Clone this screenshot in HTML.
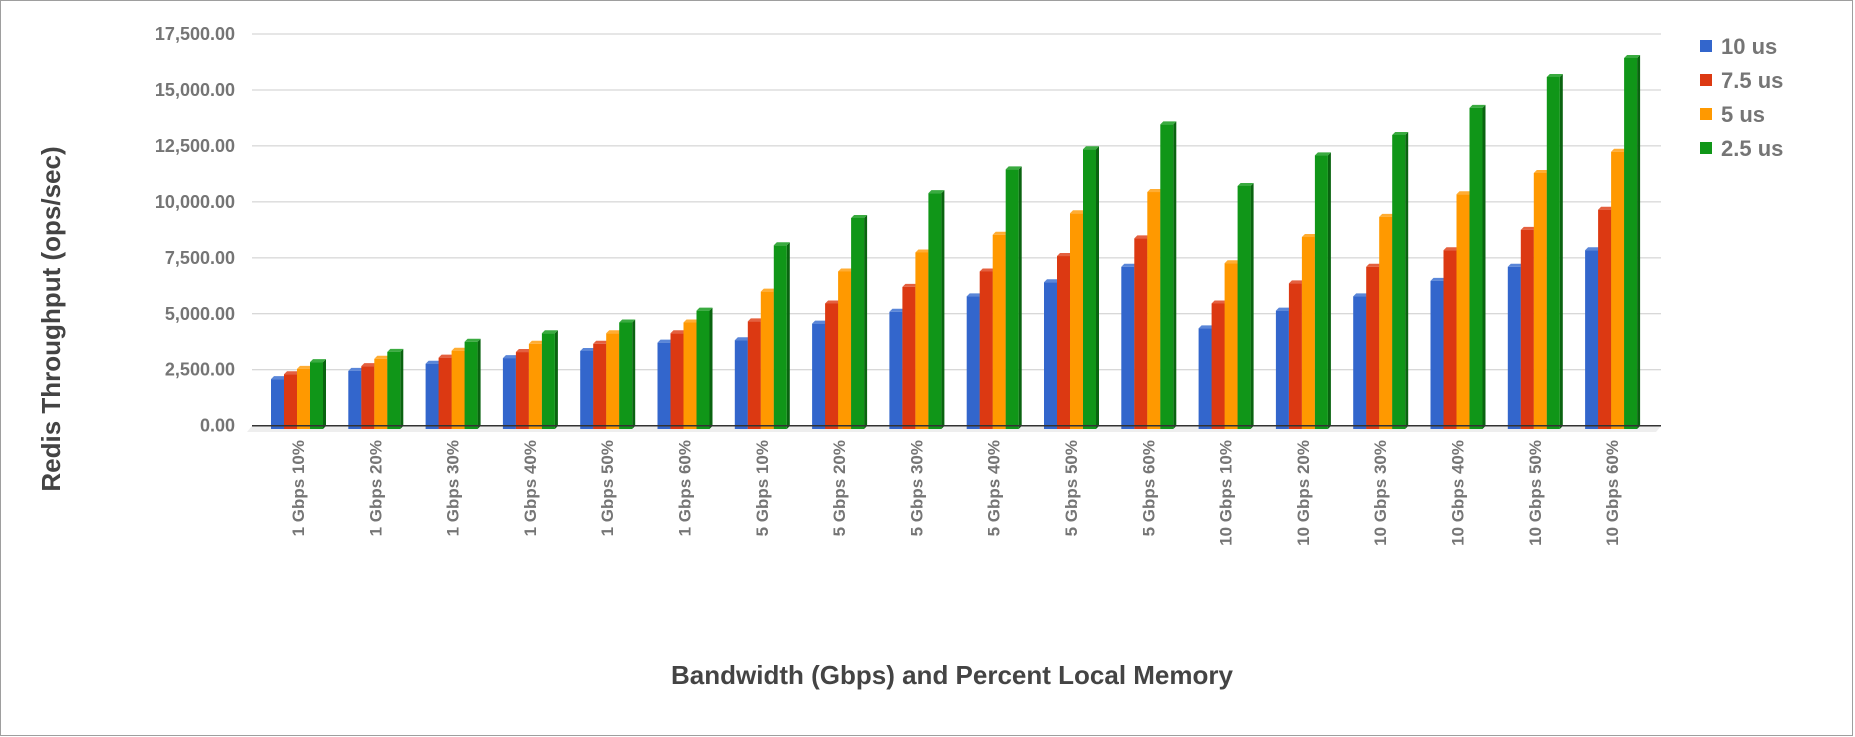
<!DOCTYPE html>
<html><head><meta charset="utf-8"><style>
html,body{margin:0;padding:0;background:#fff;}
svg{display:block;font-family:"Liberation Sans",sans-serif;}
</style></head><body>
<svg id="chart" width="1855" height="737">
<rect x="0.5" y="0.5" width="1852" height="735" fill="#fff" stroke="#9e9e9e"/>
<g id="grid"></g>
<g id="ylabels"></g>
<polygon points="252,426 1661,426 1656,432 247,432" fill="#eeeeee"/>
<g id="bars"></g>
<line x1="252" y1="425.7" x2="1661" y2="425.7" stroke="#333" stroke-width="1.5"/>
<g id="xlabels"></g>
<text x="60" y="319" transform="rotate(-90 60 319)" text-anchor="middle" font-size="26" font-weight="bold" fill="#444">Redis Throughput (ops/sec)</text>
<text x="952" y="684" text-anchor="middle" font-size="26" font-weight="bold" fill="#444">Bandwidth (Gbps) and Percent Local Memory</text>
<g id="legend"></g>
</svg>
<script>
const categories = ["1 Gbps 10%","1 Gbps 20%","1 Gbps 30%","1 Gbps 40%","1 Gbps 50%","1 Gbps 60%","5 Gbps 10%","5 Gbps 20%","5 Gbps 30%","5 Gbps 40%","5 Gbps 50%","5 Gbps 60%","10 Gbps 10%","10 Gbps 20%","10 Gbps 30%","10 Gbps 40%","10 Gbps 50%","10 Gbps 60%"];
const seriesNames = ["10 us","7.5 us","5 us","2.5 us"];
const s10 = [2080,2450,2770,3020,3340,3710,3820,4560,5090,5780,6410,7100,4350,5140,5780,6470,7100,7840];
const s75 = [2300,2660,3040,3290,3660,4130,4660,5460,6200,6890,7580,8370,5460,6360,7100,7840,8750,9650];
const s5 = [2540,2990,3350,3660,4130,4610,5990,6890,7740,8530,9490,10440,7260,8430,9330,10340,11290,12240];
const s25 = [2840,3300,3750,4130,4610,5140,8060,9280,10390,11450,12350,13460,10710,12080,12990,14200,15580,16430];
const yTicks = [0,2500,5000,7500,10000,12500,15000,17500];
const yTickLabels = ["0.00","2,500.00","5,000.00","7,500.00","10,000.00","12,500.00","15,000.00","17,500.00"];

const NS="http://www.w3.org/2000/svg";
const series=[s10,s75,s5,s25];
const colors=["#3366cc","#dc3912","#ff9900","#109618"];
const tops=["#5a86d8","#e4603f","#ffad33","#3aab40"];
const sides=["#1f4599","#a32508","#c27400","#0a6410"];
const y0=425.7, yTop=34, yMax=17500;
function yScale(v){return y0-(v/yMax)*(y0-yTop);}
const groupStart=271, groupStep=77.3, barW=13, depth=3;
function xScale(i,s){return groupStart+i*groupStep+s*barW;}
function mk(tag,attrs,parent){const e=document.createElementNS(NS,tag);for(const k in attrs)e.setAttribute(k,attrs[k]);parent.appendChild(e);return e;}

const grid=document.getElementById('grid'), yl=document.getElementById('ylabels');
yTicks.forEach((t,i)=>{
  const y=yScale(t);
  if(t>0){const l=mk('line',{x1:252,x2:1661,y1:y,y2:y,stroke:'#cccccc','stroke-width':1},grid);
    
    }
  const tx=mk('text',{x:235,y:y+6,'text-anchor':'end','font-size':18,'font-weight':'bold',fill:'#757575'},yl);
  tx.textContent=yTickLabels[i];
  
  
});

const bars=document.getElementById('bars');
categories.forEach((c,i)=>{
  for(let s=0;s<4;s++){
    const v=series[s][i], x=xScale(i,s), y=yScale(v), b=429;
    const g=mk('g',{},bars);
    
    
    mk('polygon',{points:`${x+barW},${y} ${x+barW+depth},${y-depth} ${x+barW+depth},${b-depth} ${x+barW},${b}`,fill:sides[s]},g);
    mk('polygon',{points:`${x},${y} ${x+depth},${y-depth} ${x+barW+depth},${y-depth} ${x+barW},${y}`,fill:tops[s]},g);
    mk('rect',{x:x,y:y,width:barW,height:b-y,fill:colors[s]},g);
  }
  const cx=xScale(i,0)+2*barW+1;
  const t=mk('text',{x:cx+6,y:440,transform:`rotate(-90 ${cx+6} 440)`,'text-anchor':'end','font-size':17,'font-weight':'bold',fill:'#757575'},document.getElementById('xlabels'));
  t.textContent=c;
  
  
});

const lg=document.getElementById('legend');
seriesNames.forEach((n,s)=>{
  const cy=46+s*34;
  const g=mk('g',{},lg);
  
  
  mk('rect',{x:1700,y:cy-6,width:12,height:12,fill:colors[s]},g);
  const t=mk('text',{x:1721,y:cy+8,'font-size':22,'font-weight':'bold',fill:'#757575'},g);
  t.textContent=n;
});
</script>
</body></html>
